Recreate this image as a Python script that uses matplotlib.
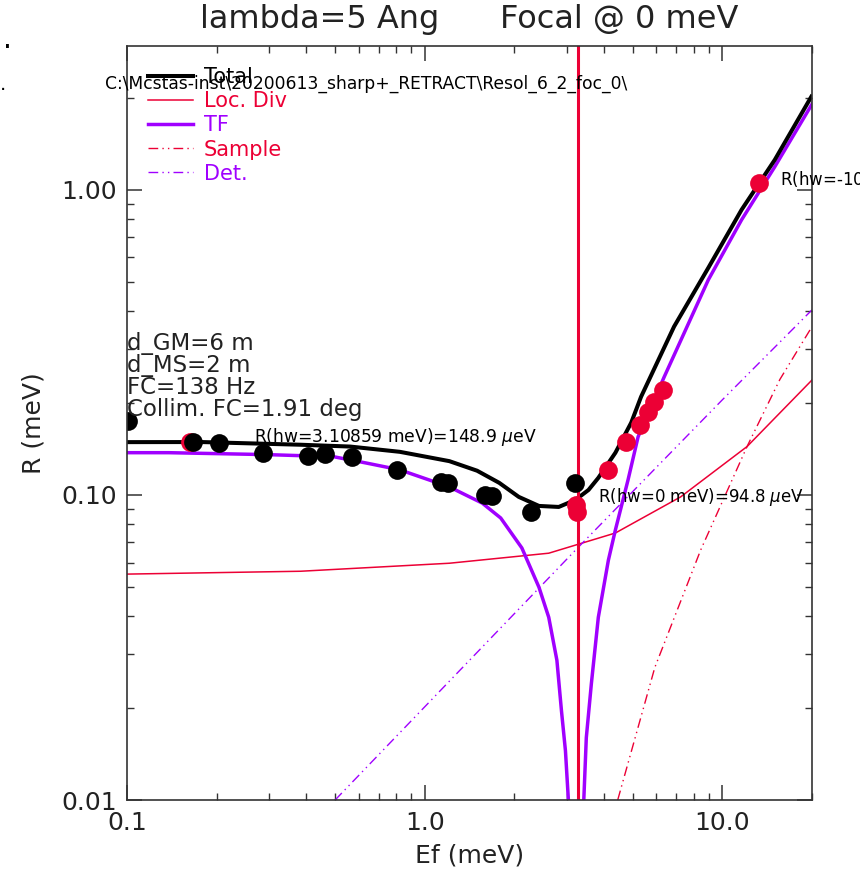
import matplotlib
matplotlib.use('Agg')

import matplotlib.pyplot as plt
from matplotlib.ticker import NullFormatter

# ===== DATA =====
ei = 3.27  # incident energy, lambda = 5 Ang

# Total resolution (black)
ef_tot = [0.1, 0.178, 0.383, 0.562, 0.825, 1.21, 1.5, 1.78, 2.07, 2.42, 2.82, 3.21,
          3.55, 3.83, 4.37, 4.94, 5.33, 6.88, 8.97, 11.6, 15.0, 19.9]
r_tot = [0.1489, 0.149, 0.146, 0.144, 0.1384, 0.129, 0.12, 0.1095, 0.0985, 0.092, 0.0913, 0.0963,
         0.1038, 0.1137, 0.1374, 0.1725, 0.2096, 0.356, 0.555, 0.86, 1.254, 2.02]

# TF contribution (purple) -> goes to zero at Ei
ef_tf = [0.1, 0.138, 0.297, 0.494, 0.641, 0.825, 1.21, 1.56, 1.80, 2.12, 2.42, 2.61, 2.78,
         2.88, 2.97, 3.04, 3.27, 3.42, 3.49, 3.63, 3.83, 4.14, 4.37, 4.82, 5.21,
         6.38, 8.97, 11.6, 15.0, 20.2]
r_tf = [0.1375, 0.1375, 0.1355, 0.1334, 0.127, 0.1208, 0.1062, 0.094, 0.084, 0.067, 0.0498, 0.0397,
        0.0287, 0.0196, 0.0145, 0.0099, 0.001, 0.0098, 0.016, 0.0241, 0.0397, 0.0611, 0.0767, 0.112,
        0.155, 0.244, 0.507, 0.797, 1.19, 1.94]

# local divergence (red solid)
ef_loc = [0.1, 0.383, 1.21, 2.61, 4.37, 7.24, 12.1, 20.0]
r_loc = [0.055, 0.0562, 0.0597, 0.0644, 0.075, 0.0985, 0.144, 0.238]

# sample (red dash-dot-dot)
ef_smp = [4.45, 5.93, 8.45, 12.1, 15.6, 20.0]
r_smp = [0.01, 0.0272, 0.0659, 0.144, 0.239, 0.356]

# detector (purple dash-dot-dot)
ef_det = [0.5, 1.0, 3.21, 10.0, 20.0]
r_det = [0.01, 0.0202, 0.0659, 0.205, 0.404]

# simulated points
ef_blk = [0.101, 0.167, 0.203, 0.286, 0.404, 0.464, 0.571, 0.807, 1.13, 1.2,
          1.60, 1.68, 2.27, 3.21]
r_blk = [0.1748, 0.149, 0.148, 0.1375, 0.1344, 0.1364, 0.1334, 0.1208, 0.1103, 0.1095,
         0.100, 0.099, 0.088, 0.1095]

ef_red = [0.163, 3.23, 3.24, 4.14, 4.75, 5.28, 5.62, 5.9, 6.3, 13.3]
r_red = [0.149, 0.0927, 0.088, 0.1208, 0.149, 0.17, 0.1875, 0.202, 0.221, 1.055]

info_lines = ['d_GM=6 m', 'd_MS=2 m', 'FC=138 Hz', 'Collim. FC=1.91 deg']
xticks = [0.1, 1.0, 10.0]
xtick_labels = ['0.1', '1.0', '10.0']
yticks = [0.01, 0.1, 1.0]
ytick_labels = ['0.01', '0.10', '1.00']

RED = '#EC0035'
PURPLE = '#A000FF'
GRAY = '#333333'
TXT = '#222222'

# ===== PLOT =====
fig = plt.figure(figsize=(8.6, 8.69), dpi=100)
ax = fig.add_axes([0.1477, 0.0794, 0.7965, 0.8677])

ddot = (0, (7, 3, 1, 3, 1, 3))

ax.plot(ef_loc, r_loc, color=RED, lw=1.1, label='Loc. Div')
ax.plot(ef_smp, r_smp, color=RED, lw=1.0, linestyle=ddot, label='Sample')
ax.plot(ef_det, r_det, color=PURPLE, lw=1.0, linestyle=ddot, label='Det.')
ax.plot(ef_tf, r_tf, color=PURPLE, lw=2.5, label='TF')
ax.plot(ef_tot, r_tot, color='black', lw=2.9, label='Total')
ax.axvline(ei, color=RED, lw=2.2)

ax.plot(ef_red, r_red, 'o', color=RED, ms=13.5, mec='none')
ax.plot(ef_blk, r_blk, 'o', color='black', ms=13.5, mec='none')

ax.set_xscale('log')
ax.set_yscale('log')
ax.set_xlim(0.1, 20)
ax.set_ylim(0.01, 2.96)

ax.set_xticks(xticks, xtick_labels)
ax.set_yticks(yticks, ytick_labels)
ax.xaxis.set_minor_formatter(NullFormatter())
ax.yaxis.set_minor_formatter(NullFormatter())
ax.tick_params(which='both', direction='in', top=True, right=True,
               colors=GRAY, labelcolor=TXT, labelsize=18)
ax.tick_params(which='major', length=11, width=1.1)
ax.tick_params(axis='x', which='major', pad=8)
ax.tick_params(axis='y', which='major', pad=7)
ax.tick_params(which='minor', length=5, width=1.0)
for sp in ax.spines.values():
    sp.set_color(GRAY)
    sp.set_linewidth(1.2)

ax.set_xlabel('Ef (meV)', fontsize=18, color=TXT, labelpad=6)
ax.set_ylabel('R (meV)', fontsize=18, color=TXT, labelpad=12)

fig.text(0.546, 0.977, 'lambda=5 Ang      Focal @ 0 meV', fontsize=23,
         color=TXT, ha='center', va='center')
fig.text(0.122, 0.903, 'C:\\Mcstas-inst\\20200613_sharp+_RETRACT\\Resol_6_2_foc_0\\',
         fontsize=12.3, ha='left', va='center')
fig.text(0.004, 0.945, '.', fontsize=20, ha='left', va='baseline')
fig.text(0.0, 0.897, '.', fontsize=14, ha='left', va='baseline')

# legend
handles, labels = ax.get_legend_handles_labels()
order = [labels.index(n) for n in ['Total', 'Loc. Div', 'TF', 'Sample', 'Det.']]
ax.legend([handles[i] for i in order], [labels[i] for i in order],
          loc='upper left', bbox_to_anchor=(0.03, 0.972), frameon=False,
          fontsize=15, labelcolor='linecolor', handlelength=2.2,
          handletextpad=0.5, labelspacing=0.2, borderpad=0, borderaxespad=0)

# parameter block
for i, s in enumerate(info_lines):
    ax.text(0.0, 0.606 - i * 0.0292, s, transform=ax.transAxes, fontsize=16.5,
            color=TXT, ha='left', va='center')

ax.text(0.266, 0.155, r'R(hw=3.10859 meV)=148.9 $\mu$eV', fontsize=12.3,
        ha='left', va='center')
ax.text(3.82, 0.0985, r'R(hw=0 meV)=94.8 $\mu$eV', fontsize=12,
        ha='left', va='center')
ax.text(15.6, 1.078, r'R(hw=-10.0 meV)=1055 $\mu$eV', fontsize=12,
        ha='left', va='center', clip_on=False)

fig.savefig('out.png', dpi=100)
